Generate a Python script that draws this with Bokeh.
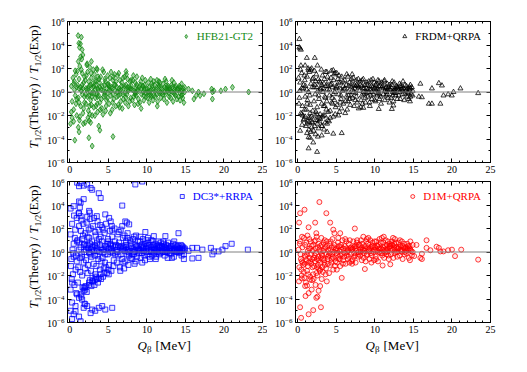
import math
from bokeh.plotting import figure
from bokeh.layouts import column, row
from bokeh.models import (Range1d, FixedTicker, LinearAxis, LogAxis, Span, Label,
                          Legend, LegendItem)
from bokeh.embed import file_html
from bokeh.resources import INLINE

# ---------------- data: (Q_beta [MeV], log10 of T1/2(Theory)/T1/2(Exp)) ----------------
hfb21_points = [
    (0.2,0.5),(0.3,-0.8),(0.4,1.2),(0.5,-1.5),(0.6,0.2),(0.7,-0.3),(0.8,1.5),(0.9,-2.0),(0.3,-2.2),(0.5,-2.5),
    (0.6,0.9),(0.8,-1.0),(0.9,0.4),(0.2,-1.7),(0.7,1.8),
    (1.0,0.6),(1.1,-0.5),(1.2,1.1),(1.3,2.2),(1.4,-1.2),(1.5,0.1),(1.6,1.6),(1.7,-1.8),(1.8,0.8),(1.9,-0.4),
    (1.1,2.6),(1.3,-2.1),(1.5,1.9),(1.7,0.3),(1.9,1.3),(1.2,-0.9),(1.4,0.4),(1.6,-0.2),(1.8,-1.4),(1.0,1.8),
    (1.25,-2.4),(1.55,2.8),(1.75,-2.7),
    (2.0,1.0),(2.1,-1.0),(2.2,0.2),(2.3,1.7),(2.4,-1.6),(2.5,0.5),(2.6,2.1),(2.7,-0.7),(2.8,1.2),(2.9,-2.0),
    (2.05,-0.2),(2.15,1.4),(2.35,-2.2),(2.45,0.9),(2.55,-1.2),(2.65,0.0),(2.75,1.6),(2.85,-0.4),(2.95,0.7),
    (2.2,2.3),(2.6,-1.9),(2.4,0.3),(2.8,-1.1),
    (3.0,0.4),(3.1,-1.3),(3.2,1.5),(3.3,-0.5),(3.4,0.9),(3.5,2.0),(3.6,-1.7),(3.7,0.2),(3.8,1.1),(3.9,-0.9),
    (3.05,1.9),(3.15,-0.1),(3.25,-2.0),(3.45,0.6),(3.55,-1.0),(3.65,1.3),(3.75,-0.3),(3.85,0.8),(3.95,-1.5),
    (3.3,1.0),(3.6,0.3),(3.4,-1.2),
    (4.0,1.3),(4.1,-0.6),(4.2,0.5),(4.3,-1.9),(4.4,1.7),(4.5,-0.2),(4.6,0.9),(4.7,-1.2),(4.8,0.3),(4.9,1.4),
    (4.15,-1.4),(4.35,0.1),(4.55,1.1),(4.75,-0.7),(4.95,0.6),(4.25,1.9),(4.65,-1.6),(4.85,-0.1),
    (5.0,0.7),(5.1,-1.0),(5.2,1.2),(5.3,-0.3),(5.4,0.4),(5.5,-1.5),(5.6,1.0),(5.7,-0.6),(5.8,1.5),(5.9,0.1),
    (5.15,0.2),(5.35,1.7),(5.55,-0.9),(5.75,0.6),(5.95,-1.2),(5.25,-1.8),(5.65,1.3),
    (6.0,0.9),(6.1,-0.4),(6.2,1.4),(6.3,-1.1),(6.4,0.3),(6.5,1.0),(6.6,-0.8),(6.7,0.5),(6.8,-1.4),(6.9,1.2),
    (6.15,0.0),(6.35,1.6),(6.55,-0.2),(6.75,0.8),(6.95,-0.6),(6.45,-1.3),
    (7.0,0.3),(7.1,1.3),(7.2,-0.9),(7.3,0.6),(7.4,-0.2),(7.5,1.1),(7.6,-1.2),(7.7,0.4),(7.8,0.9),(7.9,-0.5),
    (7.15,-0.1),(7.35,1.5),(7.55,0.2),(7.75,-0.8),(7.95,1.0),
    (8.0,0.5),(8.1,-0.7),(8.2,1.0),(8.3,0.1),(8.4,-1.1),(8.5,0.8),(8.6,-0.3),(8.7,1.3),(8.8,0.2),(8.9,-0.6),
    (8.25,1.4),(8.45,-0.2),(8.65,0.6),(8.85,-1.0),(8.55,0.0),
    (9.0,0.4),(9.1,-0.9),(9.2,0.9),(9.3,-0.2),(9.4,1.2),(9.5,0.0),(9.6,-0.7),(9.7,0.6),(9.8,1.0),(9.9,-0.4),
    (9.25,-1.4),(9.45,0.5),(9.65,0.2),(9.85,-0.1),
    (10.0,0.3),(10.1,-0.5),(10.2,0.8),(10.3,-0.9),(10.4,0.1),(10.5,1.1),(10.6,-0.3),(10.7,0.5),(10.8,-0.7),
    (10.9,0.9),(10.25,0.0),(10.45,-0.2),(10.65,0.7),(10.85,0.2),
    (11.0,0.6),(11.1,-0.4),(11.2,0.2),(11.3,1.0),(11.4,-0.8),(11.5,0.4),(11.6,-0.1),(11.7,0.8),(11.8,-0.5),
    (11.9,0.3),(11.35,-1.2),(11.55,0.9),(11.75,0.0),
    (12.0,0.2),(12.1,0.7),(12.2,-0.6),(12.3,0.4),(12.4,-0.2),(12.5,0.9),(12.6,-0.9),(12.7,0.1),(12.8,0.5),
    (12.9,-0.4),(12.35,1.1),(12.65,0.3),(12.85,-0.1),
    (13.0,0.3),(13.1,-0.5),(13.2,0.6),(13.3,0.0),(13.4,-0.8),(13.5,0.8),(13.6,0.2),(13.7,-0.3),(13.8,0.5),
    (13.9,-0.6),(13.25,1.0),(13.65,0.4),
    (14.0,0.2),(14.1,-0.4),(14.2,0.5),(14.3,-0.7),(14.4,0.1),(14.5,0.7),(14.6,-0.2),(14.7,0.3),(14.8,-0.9),
    (14.9,0.0),(14.35,0.4),(14.65,-0.5),
    # outliers and sparse high-Q points
    (1.08,4.8),(1.5,4.67),(1.17,4.15),(1.38,4.1),(1.25,3.8),(1.6,3.6),(1.7,3.15),(1.4,3.0),(2.8,2.6),(2.25,2.4),
    (3.55,1.9),(7.3,1.75),(0.1,-2.7),(0.65,-4.1),(1.1,-3.0),(1.2,-3.4),(2.47,-3.9),(2.9,-4.6),(5.6,-3.8),
    (2.0,-2.6),(2.5,-2.45),(2.7,-2.6),(3.76,-2.9),(3.9,-3.25),
    (15.4,0.25),(15.9,0.1),(16.7,0.0),(16.9,-0.3),(18.4,0.25),(18.5,0.0),(18.7,0.1),(20.2,0.25),(21.1,0.4),
    (23.2,0.0),(18.5,-0.6),(17.4,-0.15),(16.1,-0.6),(16.4,-0.3),(19.6,0.1),
]
hfb21_core_points = [
    (2.1,0.3),(2.3,-0.4),(2.7,0.6),(2.9,-0.1),(3.1,0.5),(3.3,0.2),(3.6,-0.4),(3.9,0.4),(4.1,0.2),(4.4,-0.4),
    (4.6,0.0),(4.9,-0.5),(5.1,0.5),(5.3,0.1),(5.6,-0.2),(5.9,0.6),(6.1,0.4),(6.3,-0.3),(6.6,0.2),(6.9,-0.2),
    (7.1,0.5),(7.3,-0.5),(7.6,0.1),(7.9,0.3),(8.1,0.2),(8.3,-0.4),(8.6,0.4),(8.9,0.1),(9.1,0.6),(9.3,0.3),
    (9.6,-0.3),(9.9,0.2),(10.1,0.0),(10.3,0.4),(10.6,0.2),(10.9,-0.3),(11.1,0.1),(11.3,-0.2),(11.6,0.5),
    (11.9,-0.1),(12.1,-0.2),(12.3,0.0),(12.6,0.5),(12.9,0.2),(13.1,0.1),(13.3,0.4),(13.6,-0.2),(13.9,0.2),
    (14.1,0.3),(14.3,-0.1),(14.6,0.1),(14.9,0.4),(1.2,0.3),(1.6,0.6),(1.9,-0.9),(0.9,-0.6),(0.5,0.7),
    (2.5,-0.3),(3.5,-0.2),(4.5,0.6),(5.5,0.3),(6.5,0.1),(7.5,0.4),(8.5,-0.1),(9.5,0.5),(10.5,-0.4),
    (11.5,0.6),(12.5,0.3),(13.5,-0.1),(14.5,-0.3),
]

frdm_points = [
    (0.1,1.2),(0.2,-0.5),(0.3,0.8),(0.4,-1.8),(0.5,1.6),(0.6,-1.2),(0.7,0.3),(0.8,-2.3),(0.9,1.0),(0.15,-1.0),
    (0.35,1.9),(0.55,-2.8),(0.75,0.6),(0.95,-0.4),(0.25,0.1),(0.65,-2.0),(0.85,1.4),
    (1.0,0.5),(1.1,-1.5),(1.2,1.3),(1.3,-2.5),(1.4,0.0),(1.5,1.7),(1.6,-1.1),(1.7,0.7),(1.8,-3.0),(1.9,1.1),
    (1.05,-2.9),(1.15,0.2),(1.25,-0.7),(1.35,2.0),(1.45,-3.2),(1.55,-0.3),(1.65,1.9),(1.75,-2.1),(1.85,0.4),
    (1.95,-1.6),(1.2,-3.5),(1.5,-2.6),(1.7,-3.4),
    (2.0,1.2),(2.1,-0.8),(2.2,0.6),(2.3,-2.4),(2.4,1.5),(2.5,-1.3),(2.6,0.1),(2.7,-3.1),(2.8,0.9),(2.9,-1.9),
    (2.05,-3.3),(2.15,1.8),(2.25,-0.2),(2.35,-1.7),(2.45,0.4),(2.55,-2.7),(2.65,1.1),(2.75,-0.6),(2.85,-2.2),
    (2.95,0.8),(2.3,-3.6),(2.6,-3.8),
    (3.0,0.3),(3.1,-1.0),(3.2,1.4),(3.3,-2.0),(3.4,0.7),(3.5,-0.4),(3.6,1.7),(3.7,-1.5),(3.8,0.2),(3.9,-2.4),
    (3.05,1.9),(3.15,-2.9),(3.25,0.0),(3.35,-1.2),(3.45,1.1),(3.55,-2.6),(3.65,0.5),(3.75,-0.8),(3.85,1.3),
    (3.95,-1.7),(3.4,-3.2),
    (4.0,0.9),(4.1,-0.3),(4.2,-1.6),(4.3,1.2),(4.4,-0.9),(4.5,0.4),(4.6,-2.1),(4.7,1.5),(4.8,0.0),(4.9,-1.3),
    (4.05,-2.5),(4.25,0.6),(4.45,-0.5),(4.65,1.0),(4.85,-1.9),(4.35,1.8),(4.75,-0.7),
    (5.0,0.5),(5.1,-1.1),(5.2,1.1),(5.3,-0.2),(5.4,-1.7),(5.5,0.8),(5.6,-0.6),(5.7,1.3),(5.8,0.1),(5.9,-1.0),
    (5.05,1.6),(5.25,-2.0),(5.45,0.3),(5.65,-1.4),(5.85,0.9),(5.35,1.4),
    (6.0,0.2),(6.1,1.0),(6.2,-0.8),(6.3,0.6),(6.4,-1.5),(6.5,1.3),(6.6,-0.3),(6.7,0.8),(6.8,-1.1),(6.9,0.4),
    (6.15,-1.8),(6.35,1.5),(6.55,0.0),(6.75,-0.6),(6.95,1.1),
    (7.0,0.7),(7.1,-0.5),(7.2,1.2),(7.3,-1.2),(7.4,0.3),(7.5,-0.1),(7.6,1.0),(7.7,-0.9),(7.8,0.5),(7.9,-1.4),
    (7.05,1.5),(7.25,0.0),(7.45,-0.7),(7.65,0.6),(7.85,1.1),
    (8.0,0.1),(8.1,0.9),(8.2,-0.7),(8.3,0.5),(8.4,-1.0),(8.5,1.1),(8.6,-0.2),(8.7,0.6),(8.8,-0.9),(8.9,0.3),
    (8.15,-1.3),(8.35,1.0),(8.55,0.0),(8.75,-0.5),(8.95,0.8),
    (9.0,0.6),(9.1,-0.4),(9.2,0.9),(9.3,-0.9),(9.4,0.2),(9.5,1.0),(9.6,-0.6),(9.7,0.4),(9.8,-0.2),(9.9,0.8),
    (9.15,0.0),(9.35,-1.2),(9.55,0.5),(9.75,1.1),(9.95,-0.7),
    (10.0,0.3),(10.1,-0.8),(10.2,0.7),(10.3,-0.3),(10.4,1.0),(10.5,0.1),(10.6,-0.6),(10.7,0.5),(10.8,-1.0),
    (10.9,0.8),(10.15,0.2),(10.35,-0.1),(10.55,0.9),(10.75,-0.4),
    (11.0,0.5),(11.1,-0.2),(11.2,0.9),(11.3,-0.7),(11.4,0.3),(11.5,0.0),(11.6,0.7),(11.7,-0.5),(11.8,0.4),
    (11.9,-0.9),(11.25,1.0),(11.45,-0.3),(11.65,0.2),(11.85,0.6),
    (12.0,0.2),(12.1,-0.5),(12.2,0.6),(12.3,0.0),(12.4,-0.8),(12.5,0.8),(12.6,0.3),(12.7,-0.3),(12.8,0.5),
    (12.9,-0.6),(12.25,0.9),(12.45,0.1),(12.65,-0.1),(12.85,0.4),
    (13.0,0.4),(13.1,-0.3),(13.2,0.7),(13.3,-0.6),(13.4,0.2),(13.5,0.5),(13.6,-0.2),(13.7,0.3),(13.8,-0.7),
    (13.9,0.6),(13.25,0.0),(13.65,0.9),
    (14.0,0.1),(14.1,0.5),(14.2,-0.4),(14.3,0.3),(14.4,-0.6),(14.5,0.2),(14.6,0.6),(14.7,-0.2),(14.8,0.4),
    (14.9,-0.3),(14.25,0.0),(14.55,-0.8),
    # outliers and sparse high-Q points
    (0.2,4.5),(0.2,3.8),(0.3,3.7),(0.4,3.6),(1.17,2.9),(2.2,2.9),(0.4,2.25),(0.95,2.25),(2.55,2.25),(1.8,2.0),
    (1.4,1.85),(4.6,1.85),(4.85,1.6),(3.76,1.7),
    (0.3,-3.3),(1.4,-3.85),(1.6,-3.9),(1.4,-4.8),(2.5,-5.1),(2.0,-4.3),(3.1,-3.7),(3.8,-3.4),(4.6,-3.55),
    (5.7,-3.5),(0.74,-2.4),(1.2,-2.7),(1.8,-2.6),(2.5,-2.4),(3.1,-2.9),(3.8,-2.7),(0.5,-1.9),(0.95,-2.1),
    (1.6,-2.2),(2.25,-2.0),(2.9,-2.3),(3.5,-2.0),(4.2,-2.2),
    (8.5,-1.35),(10.5,-1.45),(12.2,-1.45),(12.4,-1.15),(14.6,-0.4),
    (15.7,-0.4),(16.1,-0.45),(17.0,-1.0),(17.4,-1.0),(18.5,-1.0),(15.9,0.7),(17.4,0.3),(18.3,0.75),
    (18.7,0.55),(18.9,-0.3),(20.2,0.0),(19.98,-0.3),(21.1,0.3),(23.4,-0.1),(19.5,-0.2),
]
frdm_core_points = [
    (2.1,0.4),(2.3,0.9),(2.7,-0.3),(2.9,0.2),(3.1,0.6),(3.3,0.3),(3.6,-0.5),(3.9,0.5),(4.1,0.2),(4.4,0.7),
    (4.6,-0.2),(4.9,0.3),(5.1,0.4),(5.3,0.8),(5.6,-0.3),(5.9,0.5),(6.1,0.3),(6.3,-0.4),(6.6,0.5),(6.9,-0.3),
    (7.1,0.2),(7.3,0.6),(7.6,-0.4),(7.9,0.4),(8.1,0.6),(8.3,-0.3),(8.6,0.3),(8.9,-0.1),(9.1,0.2),(9.3,0.5),
    (9.6,0.0),(9.9,0.3),(10.1,0.6),(10.3,0.2),(10.6,-0.2),(10.9,0.4),(11.1,0.3),(11.3,0.1),(11.6,-0.2),
    (11.9,0.2),(12.1,0.4),(12.3,-0.3),(12.6,0.1),(12.9,0.3),(13.1,0.2),(13.3,0.5),(13.6,0.1),(13.9,-0.2),
    (14.1,0.2),(14.3,-0.1),(14.6,0.3),(14.9,0.1),(1.2,-1.0),(1.6,-1.8),(1.9,-2.6),(0.9,-1.5),(0.5,0.3),
    (2.5,-1.9),(3.5,-1.2),(4.5,-1.0),(5.5,-0.9),(6.5,-0.8),(7.5,0.5),(8.5,0.3),(9.5,-0.3),(10.5,0.5),
    (11.5,0.4),(12.5,-0.1),(13.5,0.3),(14.5,0.4),(2.2,-2.9),(2.8,-2.5),(3.2,-2.1),(1.4,-2.2),
]

dc3_points = [
    (0.1,1.5),(0.2,-0.6),(0.3,2.4),(0.4,-1.9),(0.5,0.7),(0.6,-2.8),(0.7,1.9),(0.8,-0.3),(0.9,2.9),(0.15,-1.2),
    (0.35,0.2),(0.55,3.1),(0.75,-1.5),(0.95,0.9),(0.25,-2.3),(0.65,1.2),(0.85,-3.5),(0.45,-0.1),
    (1.0,1.0),(1.1,-1.3),(1.2,2.2),(1.3,-0.5),(1.4,0.4),(1.5,2.7),(1.6,-2.0),(1.7,1.4),(1.8,-0.9),(1.9,0.0),
    (1.05,-2.6),(1.15,3.3),(1.25,0.8),(1.35,-1.7),(1.45,1.8),(1.55,-0.2),(1.65,-3.0),(1.75,2.4),(1.85,0.6),
    (1.95,-1.4),(1.3,3.8),(1.6,1.1),
    (2.0,1.6),(2.1,-0.7),(2.2,2.5),(2.3,-1.8),(2.4,0.3),(2.5,1.2),(2.6,-2.4),(2.7,2.0),(2.8,-0.4),(2.9,0.9),
    (2.05,-2.9),(2.15,0.5),(2.25,3.0),(2.35,-1.1),(2.45,1.9),(2.55,-0.1),(2.65,2.8),(2.75,-1.6),(2.85,0.2),
    (2.95,-2.2),(2.3,1.3),(2.6,0.7),
    (3.0,2.2),(3.1,-1.0),(3.2,0.6),(3.3,1.7),(3.4,-2.1),(3.5,0.1),(3.6,2.6),(3.7,-0.6),(3.8,1.1),(3.9,-1.5),
    (3.05,0.4),(3.15,2.9),(3.25,-0.3),(3.35,1.4),(3.45,-1.2),(3.55,0.8),(3.65,-2.6),(3.75,1.9),(3.85,0.0),
    (3.95,2.3),(3.3,-1.9),
    (4.0,1.3),(4.1,-0.8),(4.2,2.1),(4.3,0.2),(4.4,-1.4),(4.5,1.6),(4.6,-0.2),(4.7,2.4),(4.8,-1.8),(4.9,0.7),
    (4.05,-2.3),(4.15,0.9),(4.35,1.9),(4.55,-0.9),(4.75,0.4),(4.95,1.1),(4.25,-0.5),(4.65,-1.3),
    (5.0,0.9),(5.1,-1.1),(5.2,1.8),(5.3,0.0),(5.4,-1.6),(5.5,1.3),(5.6,0.5),(5.7,-0.7),(5.8,2.0),(5.9,-0.2),
    (5.05,-1.9),(5.25,0.7),(5.45,2.2),(5.65,-1.2),(5.85,0.9),(5.35,0.3),
    (6.0,0.6),(6.1,-0.9),(6.2,1.5),(6.3,-0.3),(6.4,0.8),(6.5,-1.3),(6.6,1.9),(6.7,0.2),(6.8,-0.6),(6.9,1.2),
    (6.15,0.0),(6.35,1.7),(6.55,-1.6),(6.75,0.5),(6.95,-0.9),
    (7.0,0.4),(7.1,1.4),(7.2,-0.8),(7.3,0.9),(7.4,-0.2),(7.5,1.6),(7.6,-1.1),(7.7,0.3),(7.8,1.0),(7.9,-0.5),
    (7.05,-1.4),(7.25,0.6),(7.45,1.2),(7.65,-0.3),(7.85,0.1),
    (8.0,0.8),(8.1,-0.6),(8.2,1.1),(8.3,0.0),(8.4,-1.0),(8.5,0.6),(8.6,1.4),(8.7,-0.4),(8.8,0.3),(8.9,0.9),
    (8.15,-0.2),(8.35,1.3),(8.55,-0.8),(8.75,0.5),(8.95,-0.1),
    (9.0,0.2),(9.1,0.9),(9.2,-0.5),(9.3,0.6),(9.4,-0.9),(9.5,1.1),(9.6,0.1),(9.7,-0.3),(9.8,0.7),(9.9,0.3),
    (9.15,1.3),(9.35,-0.1),(9.55,0.4),(9.75,-0.7),(9.95,1.0),
    (10.0,0.5),(10.1,-0.2),(10.2,0.8),(10.3,0.1),(10.4,-0.6),(10.5,0.4),(10.6,1.0),(10.7,-0.3),(10.8,0.6),
    (10.9,0.2),(10.15,1.2),(10.35,-0.4),(10.55,0.0),(10.75,0.9),(10.95,-0.1),
    (11.0,0.3),(11.1,0.7),(11.2,-0.4),(11.3,0.5),(11.4,0.0),(11.5,0.9),(11.6,-0.2),(11.7,0.4),(11.8,0.8),
    (11.9,0.1),(11.15,-0.6),(11.35,0.2),(11.55,0.6),(11.75,-0.1),(11.95,0.5),
    (12.0,0.4),(12.1,0.0),(12.2,0.7),(12.3,-0.3),(12.4,0.3),(12.5,0.6),(12.6,0.1),(12.7,-0.5),(12.8,0.5),
    (12.9,0.2),(12.15,0.9),(12.35,0.0),(12.55,0.3),(12.75,0.8),(12.95,-0.1),
    (13.0,0.3),(13.1,-0.2),(13.2,0.5),(13.3,0.1),(13.4,0.7),(13.5,-0.4),(13.6,0.2),(13.7,0.6),(13.8,0.0),
    (13.9,0.4),(13.25,-0.5),(13.55,0.9),(13.85,0.2),
    (14.0,0.2),(14.1,0.5),(14.2,-0.1),(14.3,0.3),(14.4,0.6),(14.5,-0.3),(14.6,0.1),(14.7,0.4),(14.8,-0.2),
    (14.9,0.3),(14.25,0.0),(14.55,0.5),
    # lower arm
    (2.0,-3.0),(2.5,-2.6),(3.0,-2.5),(3.5,-2.3),(4.0,-1.9),(4.5,-1.8),(5.0,-1.5),(2.8,-2.9),(3.2,-2.8),
    (3.8,-2.2),(4.3,-2.1),(2.2,-3.4),(1.8,-3.3),(1.5,-3.8),(1.9,-4.4),
    # outliers
    (0.95,5.9),(1.4,5.85),(1.2,5.6),(1.8,5.65),(2.25,5.75),(2.7,5.45),(2.9,5.3),(3.76,5.0),(8.5,5.75),(9.4,6.0),
    (1.2,4.3),(1.4,4.2),(1.8,4.5),(4.0,4.6),(6.8,3.95),(0.1,3.7),(0.5,3.9),(2.5,3.5),(2.6,3.35),
    (1.2,3.3),(1.4,3.05),(3.5,3.05),(4.6,3.2),(5.1,2.9),(5.3,2.6),(7.2,2.6),(7.4,2.5),(7.7,2.35),(6.8,2.2),
    (5.5,1.9),(9.8,1.7),(10.9,1.35),(12.4,1.35),(14.1,1.6),
    (0.3,-2.6),(0.1,-3.2),(0.3,-4.3),(0.74,-4.6),(0.1,-5.0),(0.5,-5.3),(1.2,-5.5),(0.3,-5.7),(1.4,-5.9),
    (0.74,-5.05),(0.95,-3.6),(1.2,-3.9),(1.4,-3.6),(1.6,-4.05),(2.0,-4.45),(2.25,-4.6),(1.8,-4.75),
    (2.7,-5.2),(3.76,-4.75),(4.2,-4.6),(2.9,-4.9),(3.3,-5.0),(5.5,-4.75),(4.6,-4.9),
    (1.8,-3.05),(2.0,-3.2),(2.5,-2.8),(2.9,-2.5),(3.3,-2.35),
    (15.4,0.1),(15.9,0.35),(16.5,0.35),(16.7,-0.5),(17.2,0.2),(18.3,0.35),(18.5,-0.2),(18.7,0.05),
    (19.3,0.05),(19.8,0.2),(20.2,0.5),(21.0,0.7),(23.1,0.2),(14.8,-0.6),(15.9,-0.55),
]
dc3_core_points = [
    (2.1,0.2),(2.3,0.6),(2.7,-0.2),(2.9,0.4),(3.1,0.1),(3.3,0.5),(3.6,-0.3),(3.9,0.6),(4.1,0.3),(4.4,0.0),
    (4.6,0.5),(4.9,-0.2),(5.1,0.3),(5.3,0.6),(5.6,-0.1),(5.9,0.4),(6.1,0.2),(6.3,0.5),(6.6,-0.2),(6.9,0.3),
    (7.1,0.1),(7.3,0.4),(7.6,0.0),(7.9,0.5),(8.1,0.3),(8.3,-0.2),(8.6,0.4),(8.9,0.2),(9.1,0.1),(9.3,0.4),
    (9.6,0.5),(9.9,0.0),(10.1,0.3),(10.3,0.6),(10.6,0.2),(10.9,0.4),(11.1,0.2),(11.3,0.1),(11.6,0.3),
    (11.9,0.5),(12.1,0.2),(12.3,0.4),(12.6,0.0),(12.9,0.3),(13.1,0.4),(13.3,0.2),(13.6,0.3),(13.9,0.1),
    (14.1,0.3),(14.3,0.1),(14.6,0.3),(14.9,0.2),(1.2,0.2),(1.6,-0.4),(1.9,0.7),(0.9,-0.8),(0.5,-0.4),
    (2.5,0.0),(3.5,0.3),(4.5,0.2),(5.5,0.1),(6.5,0.4),(7.5,0.2),(8.5,0.1),(9.5,0.3),(10.5,0.1),(11.5,0.4),
    (12.5,0.2),(13.5,0.1),(14.5,0.2),
]

d1m_points = [
    (0.1,0.2),(0.2,-1.3),(0.3,0.9),(0.4,-0.6),(0.5,-2.0),(0.6,0.4),(0.7,-1.1),(0.8,1.2),(0.9,-0.3),(0.15,-2.5),
    (0.35,-0.2),(0.55,1.3),(0.75,-1.7),(0.95,0.6),(0.25,0.7),(0.65,-0.9),(0.85,-2.2),(0.45,-1.5),
    (1.0,-0.4),(1.1,0.8),(1.2,-1.6),(1.3,0.1),(1.4,-0.9),(1.5,1.1),(1.6,-2.1),(1.7,-0.2),(1.8,0.5),(1.9,-1.3),
    (1.05,-2.6),(1.15,-0.7),(1.25,1.4),(1.35,-1.9),(1.45,0.3),(1.55,-0.5),(1.65,0.9),(1.75,-1.0),(1.85,-2.4),
    (1.95,0.1),(1.3,-1.2),(1.6,-0.8),
    (2.0,0.6),(2.1,-1.2),(2.2,-0.3),(2.3,1.0),(2.4,-1.8),(2.5,-0.6),(2.6,0.4),(2.7,-1.4),(2.8,0.2),(2.9,-0.9),
    (2.05,-2.3),(2.15,0.9),(2.25,-0.8),(2.35,-0.1),(2.45,1.3),(2.55,-2.0),(2.65,-0.4),(2.75,0.7),(2.85,-1.6),
    (2.95,0.0),(2.3,-2.8),(2.6,-1.1),
    (3.0,-0.5),(3.1,0.6),(3.2,-1.3),(3.3,0.1),(3.4,-0.7),(3.5,1.0),(3.6,-1.9),(3.7,-0.2),(3.8,0.5),(3.9,-1.0),
    (3.05,1.2),(3.15,-0.3),(3.25,-1.7),(3.35,0.8),(3.45,-0.9),(3.55,0.3),(3.65,-1.4),(3.75,0.9),(3.85,-0.6),
    (3.95,0.2),
    (4.0,-0.3),(4.1,0.7),(4.2,-1.1),(4.3,0.2),(4.4,-0.6),(4.5,1.1),(4.6,-1.5),(4.7,0.0),(4.8,0.6),(4.9,-0.8),
    (4.05,-1.8),(4.25,0.9),(4.45,-0.2),(4.65,0.4),(4.85,-1.2),(4.35,-0.9),
    (5.0,0.3),(5.1,-0.9),(5.2,0.8),(5.3,-0.4),(5.4,0.1),(5.5,-1.2),(5.6,0.6),(5.7,-0.2),(5.8,1.0),(5.9,-0.7),
    (5.05,-0.1),(5.25,1.2),(5.45,-0.6),(5.65,0.4),(5.85,-1.0),(5.35,0.5),
    (6.0,-0.4),(6.1,0.5),(6.2,-1.0),(6.3,0.9),(6.4,0.0),(6.5,-0.6),(6.6,0.7),(6.7,-0.9),(6.8,0.3),(6.9,-0.2),
    (6.15,1.1),(6.35,-0.3),(6.55,0.2),(6.75,1.0),(6.95,-0.8),
    (7.0,0.2),(7.1,-0.7),(7.2,0.9),(7.3,-0.1),(7.4,0.5),(7.5,-0.9),(7.6,0.1),(7.7,1.0),(7.8,-0.4),(7.9,0.6),
    (7.05,-1.0),(7.25,0.4),(7.45,-0.3),(7.65,0.8),(7.85,0.0),
    (8.0,0.6),(8.1,-0.3),(8.2,1.0),(8.3,-0.7),(8.4,0.2),(8.5,1.3),(8.6,-0.1),(8.7,0.5),(8.8,-0.8),(8.9,0.9),
    (8.15,0.0),(8.35,0.7),(8.55,-0.5),(8.75,0.3),(8.95,1.1),
    (9.0,-0.2),(9.1,0.7),(9.2,0.2),(9.3,-0.6),(9.4,1.0),(9.5,0.4),(9.6,-0.3),(9.7,0.8),(9.8,0.0),(9.9,-0.7),
    (9.15,1.2),(9.35,0.3),(9.55,-0.9),(9.75,0.5),(9.95,0.9),
    (10.0,0.4),(10.1,-0.4),(10.2,0.9),(10.3,0.1),(10.4,-0.8),(10.5,0.6),(10.6,1.1),(10.7,-0.1),(10.8,0.3),
    (10.9,1.2),(10.15,-0.6),(10.35,0.5),(10.55,0.0),(10.75,0.8),(10.95,-0.3),
    (11.0,0.2),(11.1,0.8),(11.2,-0.5),(11.3,0.5),(11.4,1.0),(11.5,-0.2),(11.6,0.3),(11.7,0.9),(11.8,-0.6),
    (11.9,0.4),(11.15,1.3),(11.35,0.0),(11.55,0.6),(11.75,-0.3),(11.95,0.7),
    (12.0,0.5),(12.1,-0.2),(12.2,0.9),(12.3,0.2),(12.4,-0.5),(12.5,0.7),(12.6,1.1),(12.7,0.0),(12.8,0.4),
    (12.9,-0.4),(12.15,0.6),(12.35,1.2),(12.55,-0.1),(12.75,0.8),(12.95,0.3),
    (13.0,0.3),(13.1,0.8),(13.2,-0.3),(13.3,0.5),(13.4,0.1),(13.5,0.9),(13.6,-0.6),(13.7,0.4),(13.8,0.7),
    (13.9,0.0),(13.25,1.0),(13.55,0.2),(13.85,-0.2),
    (14.0,0.4),(14.1,-0.1),(14.2,0.7),(14.3,0.2),(14.4,-0.5),(14.5,0.5),(14.6,0.9),(14.7,0.1),(14.8,-0.3),
    (14.9,0.6),(14.25,0.3),(14.55,-0.7),
    # outliers
    (2.8,4.25),(0.87,3.6),(0.3,3.3),(3.7,3.3),(0.17,2.5),(2.25,2.5),(4.2,2.5),(7.4,2.0),(1.4,2.1),(4.6,1.9),
    (4.75,1.6),(2.4,1.6),(5.5,1.6),
    (0.3,-4.7),(0.43,-5.6),(1.4,-5.3),(2.0,-4.95),(3.0,-4.7),(1.4,-3.5),(1.8,-3.2),(1.0,-3.75),(2.4,-3.9),
    (2.55,-3.8),(0.95,-2.9),(1.2,-2.85),(2.9,-2.9),(2.7,-3.3),(0.52,-2.25),(1.6,-2.35),(3.1,-2.3),
    (3.76,-2.5),(5.7,-2.2),(2.0,-1.9),(2.9,-1.5),(5.06,-1.5),(8.7,-1.45),(11.0,-1.15),(12.0,-1.05),
    (15.1,-0.35),(15.9,-0.5),(16.1,-0.6),(16.7,1.0),(16.7,0.35),(17.2,0.15),(18.3,0.35),(18.5,0.05),
    (18.9,0.05),(19.5,0.15),(20.0,0.2),(20.4,-0.35),(21.2,0.2),(23.4,-0.65),(15.4,0.6),(18.0,0.45),(16.1,-0.15),
]
d1m_core_points = [
    (2.1,-0.5),(2.3,0.3),(2.7,-0.7),(2.9,0.5),(3.1,-0.2),(3.3,-0.6),(3.6,0.4),(3.9,-0.4),(4.1,-0.1),(4.4,0.4),
    (4.6,-0.5),(4.9,0.2),(5.1,0.1),(5.3,-0.6),(5.6,0.2),(5.9,0.3),(6.1,-0.1),(6.3,0.3),(6.6,-0.4),(6.9,0.4),
    (7.1,0.3),(7.3,-0.4),(7.6,0.5),(7.9,-0.2),(8.1,0.2),(8.3,0.4),(8.6,0.1),(8.9,-0.3),(9.1,0.4),(9.3,0.1),
    (9.6,0.5),(9.9,0.2),(10.1,0.1),(10.3,0.5),(10.6,0.3),(10.9,-0.1),(11.1,0.4),(11.3,0.2),(11.6,0.0),
    (11.9,0.5),(12.1,0.3),(12.3,0.6),(12.6,0.2),(12.9,0.0),(13.1,0.4),(13.3,0.2),(13.6,0.5),(13.9,0.3),
    (14.1,0.1),(14.3,0.5),(14.6,0.2),(14.9,0.0),(1.2,-0.2),(1.6,0.3),(1.9,-0.6),(0.9,-1.0),(0.5,-0.8),
    (2.5,-1.3),(3.5,-1.1),(4.5,-0.4),(5.5,-0.3),(6.5,0.1),(7.5,0.3),(8.5,0.2),(9.5,-0.1),(10.5,0.3),
    (11.5,0.1),(12.5,0.4),(13.5,0.0),(14.5,0.3),
]

# axis ticks
x_major_ticks = [0, 5, 10, 15, 20, 25]
x_minor_ticks = list(range(0, 26))
y_major_ticks = [1e-6, 1e-4, 1e-2, 1e0, 1e2, 1e4, 1e6]
y_minor_ticks = [1e-5, 1e-3, 1e-1, 1e1, 1e3, 1e5]

SERIF = "Liberation Serif"
FRAME_W, FRAME_H = 195, 141


def style_axis(ax, labels=True):
    ax.axis_line_color = "black"
    ax.major_tick_in = 4
    ax.major_tick_out = 0
    ax.minor_tick_in = 2
    ax.minor_tick_out = 0
    ax.major_tick_line_color = "black"
    ax.minor_tick_line_color = "black"
    ax.major_label_text_font = SERIF
    ax.major_label_text_font_size = "10px"
    if labels:
        ax.major_label_text_color = "black"
        ax.major_label_standoff = 3
    else:
        ax.major_label_text_color = None
        ax.major_label_standoff = 0


def make_panel(points, marker, color, fill_alpha, size, name, borders):
    q = [pt[0] for pt in points]
    ratio = [10 ** pt[1] for pt in points]
    bl, br, bt, bb = borders
    p = figure(frame_width=FRAME_W, frame_height=FRAME_H,
               x_range=Range1d(-0.3, 25), y_range=Range1d(1e-6, 1e6),
               y_axis_type="log", output_backend="svg", toolbar_location=None,
               min_border_left=bl, min_border_right=br, min_border_top=bt, min_border_bottom=bb)
    p.xgrid.visible = False
    p.ygrid.visible = False
    p.outline_line_color = "black"
    p.background_fill_color = "white"
    p.border_fill_color = "white"

    p.xaxis.ticker = FixedTicker(ticks=x_major_ticks, minor_ticks=x_minor_ticks)
    p.yaxis.ticker = FixedTicker(ticks=y_major_ticks, minor_ticks=y_minor_ticks)
    for ax in p.xaxis + p.yaxis:
        style_axis(ax)

    top = LinearAxis(ticker=FixedTicker(ticks=x_major_ticks, minor_ticks=x_minor_ticks))
    style_axis(top, labels=False)
    p.add_layout(top, "above")
    right = LogAxis(ticker=FixedTicker(ticks=y_major_ticks, minor_ticks=y_minor_ticks))
    style_axis(right, labels=False)
    p.add_layout(right, "right")

    p.add_layout(Span(location=1, dimension="width", line_color="#808080", line_width=1))

    r = p.scatter(q, ratio, marker=marker, size=size, line_color=color, line_alpha=0.85,
                  line_width=0.9, fill_color=color, fill_alpha=fill_alpha)

    legend = Legend(items=[LegendItem(label=name, renderers=[r])], location="top_right",
                    border_line_color=None, background_fill_alpha=0,
                    label_text_font=SERIF, label_text_font_size="11px", label_text_color=color,
                    margin=9, padding=4, glyph_width=10, glyph_height=10, label_standoff=6,
                    label_height=12)
    p.add_layout(legend)
    return p


def blank_strip(width, height):
    s = figure(width=width, height=height, min_border=0, x_range=Range1d(0, 1), y_range=Range1d(0, 1),
               output_backend="svg", toolbar_location=None, x_axis_location=None, y_axis_location=None)
    s.xgrid.visible = False
    s.ygrid.visible = False
    s.outline_line_color = None
    s.background_fill_color = "white"
    s.border_fill_color = "white"
    return s


def ylabel_strip(width, height):
    # the strip's frame lines up with the neighbouring panel frame; y is measured from its bottom.
    # each piece is centred on (x, y); text reads bottom-to-top
    s = blank_strip(width, height)
    pieces = [
        ("T", 17.6, 33.0, "13px", "italic"),
        ("1/2", 26.9, 37.0, "9px", "normal"),
        ("(Theory) /", 59.3, 33.0, "13px", "normal"),
        ("T", 92.6, 33.0, "13px", "italic"),
        ("1/2", 101.9, 37.0, "9px", "normal"),
        ("(Exp)", 122.5, 33.0, "13px", "normal"),
    ]
    for txt, ypos, xpos, fs, style in pieces:
        s.add_layout(Label(x=xpos, y=ypos, x_units="screen", y_units="screen", text=txt,
                           angle=math.pi / 2, text_font=SERIF, text_font_size=fs,
                           text_font_style=style, text_align="center",
                           text_baseline="middle", text_color="black"))
    return s


def xlabel_strip(width, height, starts):
    s = blank_strip(width, height)
    for x0 in starts:
        pieces = [
            ("Q", x0, 19, "13px", "italic"),
            ("\u03b2", x0 + 9.6, 16, "9px", "normal"),
            ("[MeV]", x0 + 18.0, 19, "13px", "normal"),
        ]
        for txt, xpos, ypos, fs, style in pieces:
            s.add_layout(Label(x=xpos, y=ypos, x_units="screen", y_units="screen", text=txt,
                               text_font=SERIF, text_font_size=fs, text_font_style=style,
                               text_align="left", text_baseline="alphabetic", text_color="black"))
    return s


STRIP_W = 42
p1 = make_panel(hfb21_points + hfb21_core_points, "diamond", "#138a13", 0.4, 6, "HFB21-GT2", (25, 5, 21, 16))
p2 = make_panel(frdm_points + frdm_core_points, "triangle", "black", 0.05, 5, "FRDM+QRPA", (28, 10, 21, 16))
p3 = make_panel(dc3_points + dc3_core_points, "square", "blue", 0.08, 5, "DC3*+RRPA", (25, 5, 3, 16))
p4 = make_panel(d1m_points + d1m_core_points, "circle", "red", 0.08, 5, "D1M+QRPA", (28, 10, 3, 16))

ytop = ylabel_strip(STRIP_W, 21 + FRAME_H + 16)
ybot = ylabel_strip(STRIP_W, 3 + FRAME_H + 16)
xlab = xlabel_strip(STRIP_W + 225 + 233, 26, [137.0, 365.0])

layout = column(row(ytop, p1, p2, spacing=0), row(ybot, p3, p4, spacing=0), xlab, spacing=0)

open("out.html", "w").write(file_html(layout, INLINE))
